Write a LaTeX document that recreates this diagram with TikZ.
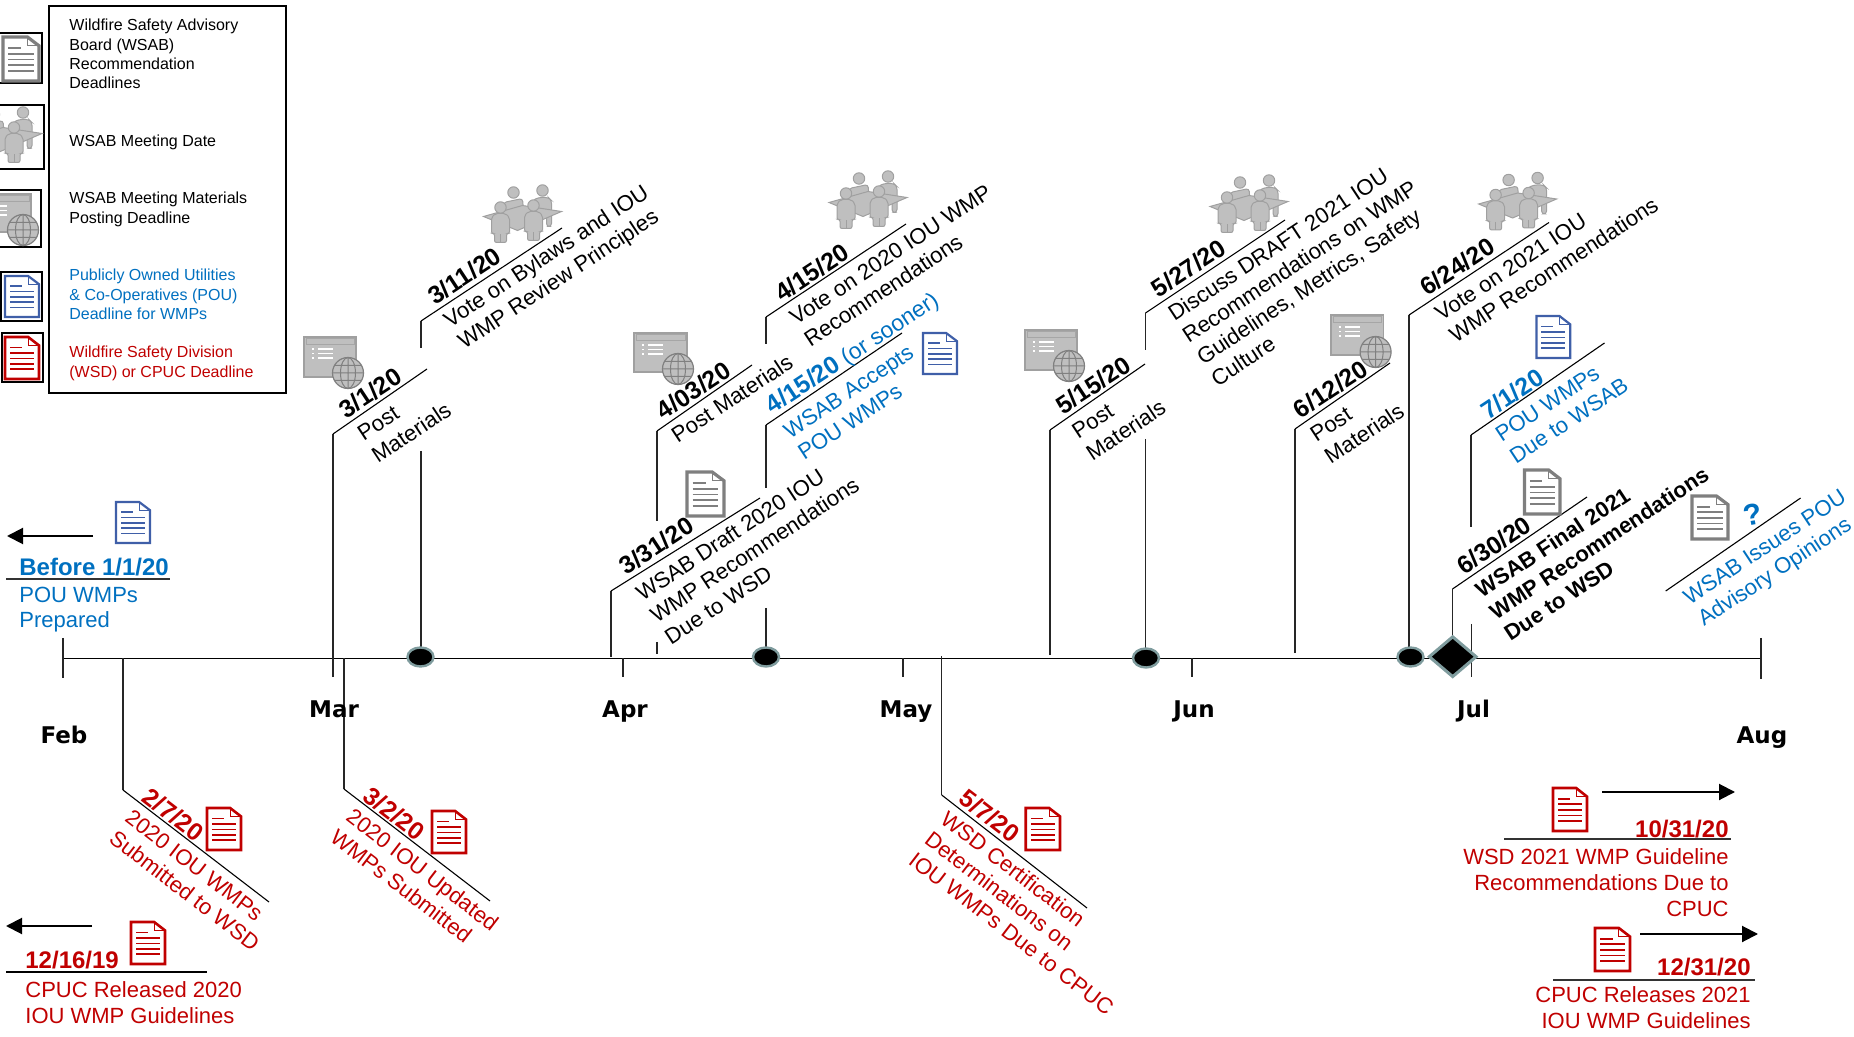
\documentclass[tikz,border=0pt]{standalone}
\usepackage{fontspec}
\setmainfont{Liberation Sans}
\newfontfamily\monthfont{DejaVu Sans}
\usetikzlibrary{arrows.meta,shapes.geometric}
\definecolor{wred}{HTML}{C00000}
\definecolor{wblue}{HTML}{0070C0}
\definecolor{docblue}{HTML}{3F5FA8}
\definecolor{docgrey}{HTML}{7F7F7F}
\definecolor{iconfill}{HTML}{BFBFBF}
\definecolor{iconline}{HTML}{A0A0A0}
\definecolor{globeline}{HTML}{808080}
\definecolor{markrim}{HTML}{7F9C9E}
\tikzset{
  tl/.style={line width=0.55pt,black},
  stemline/.style={line width=0.65pt,black!85},
  axisline/.style={line width=0.5pt,black},
  bigarrow/.style={line width=1pt,black,-{Triangle[length=8pt,width=8pt]}},
  legbox/.style={line width=0.85pt,black,fill=white},
  body/.style={font=\fontsize{11}{13}\selectfont,align=left,inner sep=0pt},
  rbody/.style={font=\fontsize{11.05}{13}\selectfont,align=left,inner sep=0pt},
  bodyr/.style={font=\fontsize{11}{13}\selectfont,align=right,inner sep=0pt},
  datefont/.style={font=\fontsize{12}{13}\selectfont\bfseries,inner sep=0pt},
  rdate/.style={font=\fontsize{12.4}{13}\selectfont\bfseries,inner sep=0pt},
  legtext/.style={font=\fontsize{8}{9.6}\selectfont,align=left,inner sep=0pt,anchor=base west},
  monthlab/.style={font=\monthfont\fontsize{11.5}{13}\selectfont\bfseries,inner sep=0pt,anchor=base},
  meetmark/.style={ellipse,draw=markrim,line width=1.2pt,fill=black,minimum width=13pt,minimum height=9.5pt,inner sep=0pt},
}
% rotated label; a along the leader, b below it, in reference pixels (base of the LAST line)
\newcommand{\rlab}[8]{\begin{scope}[shift={(#2,#3)},rotate=#4,transform shape]
  \node[#7,anchor=base west] (#1) at (#5,#6) {#8};\end{scope}}
\newcommand{\leader}[6]{\coordinate (#1a) at (#2,#3); \coordinate (#1b) at (#2,#4); \coordinate (#1c) at (#5,#6);
  \draw[stemline] (#1a) -- (#1b); \draw[tl] (#1b) -- (#1c);}
\newcommand{\stemseg}[4]{\coordinate (#1a) at (#2,#3); \coordinate (#1b) at (#2,#4); \draw[stemline] (#1a) -- (#1b);}
\newcommand{\docicon}[7]{% x1 y1 x2 y2 border lines lw
  \pgfmathsetlengthmacro{\dw}{(#3-#1)*0.5pt}\pgfmathsetlengthmacro{\dh}{(#4-#2)*0.5pt}
  \begin{scope}[shift={(#1,#2)},x=\dw,y=-\dh]
    \draw[#5,line width=#7,fill=white,line join=miter] (0,0) -- (.68,0) -- (1,.2) -- (1,1) -- (0,1) -- cycle;
    \draw[#5,line width=.5pt] (.68,0) -- (.68,.2) -- (1,.2);
    \draw[#6,line width=.85pt] (.15,.25) -- (.5,.25) (.15,.38) -- (.85,.38) (.15,.51) -- (.85,.51) (.15,.64) -- (.85,.64) (.15,.77) -- (.85,.77);
  \end{scope}}
\newcommand{\winicon}[6]{% x1 y1 x2 y2 gx gy
  \draw[iconline,line width=.6pt,fill=iconfill] (#1,#2) rectangle (#3,#4);
  \draw[globeline!70,line width=.5pt,fill=iconfill] (#1+2,#2+2) rectangle (#3-2,#2+8);
  \foreach \yy in {12,16.5,21}{
    \draw[white,line width=.7pt] (#1+8,#2+\yy) -- (#1+10,#2+\yy);
    \draw[white,line width=.7pt] (#1+14,#2+\yy) -- (#1+29,#2+\yy);}
  \begin{scope}[shift={(#5,#6)}]
    \draw[globeline,line width=.6pt,fill=iconfill] (0,0) circle[x radius=15.5,y radius=15.5];
    \draw[globeline,line width=.5pt] (0,0) circle[x radius=7.5,y radius=15.5] (0,-15.5) -- (0,15.5) (-15.5,0) -- (15.5,0) (-13.5,-7.5) -- (13.5,-7.5) (-13.5,7.5) -- (13.5,7.5);
  \end{scope}}
\newcommand{\frontperson}[2]{\begin{scope}[shift={(#1,#2)}]
  \draw[iconline,line width=.5pt,fill=iconfill] (0,0) circle[radius=5.7];
  \draw[iconline,line width=.5pt,fill=iconfill,rounded corners=1pt] (-9,26) -- (-9,10) -- (-5,6) -- (5,6) -- (9,10) -- (9,26) -- (6,26) -- (6,35) -- (-6,35) -- (-6,26) -- cycle;
  \draw[iconline,line width=.5pt] (0,27) -- (0,35);
\end{scope}}
\newcommand{\people}[2]{\begin{scope}[shift={(#1,#2)}]
  \draw[iconline,line width=.5pt,fill=iconfill] (-9,-22) circle[radius=5.7];
  \draw[iconline,line width=.5pt,fill=iconfill,rounded corners=1.5pt] (-19,0) -- (-19,-12) -- (0,-16) -- (1,-4) -- cycle;
  \draw[iconline,line width=.5pt,fill=iconfill] (20,-24) circle[radius=5.7];
  \draw[iconline,line width=.5pt,fill=iconfill,rounded corners=1.5pt] (10,0) -- (10,-14) -- (16,-17) -- (26,-17) -- (29,-14) -- (29,12) -- (24,12) -- (24,0) -- cycle;
  \draw[iconline,line width=.5pt,fill=iconfill] (-39,2) -- (0,-9) -- (39,-3) -- (-5,16) -- cycle;
  \frontperson{-22}{-7}\frontperson{11}{-9}
\end{scope}}
\begin{document}
\begin{tikzpicture}[x=0.5pt,y=-0.5pt]
\useasboundingbox (0,0) rectangle (1854,1037);
\clip (0,0) rectangle (1854,1037);

% legend
\coordinate (lfa) at (49,6); \coordinate (lfb) at (286,393);
\draw[legbox] (lfa) rectangle (lfb);
\draw[legbox] (-5,33) rectangle (42,83);
\draw[legbox] (-5,105) rectangle (44,169);
\draw[legbox] (-5,190) rectangle (41,247);
\draw[legbox] (1,272) rectangle (42,321);
\draw[legbox] (2,333) rectangle (43,382);
\docicon{3}{37}{39}{81}{docgrey}{docgrey}{1.6pt}
\people{3}{136.5}
\winicon{-22}{194}{31}{232}{23}{230}
\docicon{5}{276}{39}{317}{docblue}{docblue}{1.1pt}
\docicon{5}{337}{39}{379}{wred}{wred}{1.3pt}
\node[legtext] (lg1) at (69,31+57.6) {Wildfire Safety Advisory\\Board (WSAB)\\Recommendation\\Deadlines};
\node[legtext] (lg2) at (69,147) {WSAB Meeting Date};
\node[legtext] (lg3) at (69,204+19.2) {WSAB Meeting Materials\\Posting Deadline};
\node[legtext,text=wblue] (lg4) at (69,281+38.4) {Publicly Owned Utilities\\\& Co-Operatives (POU)\\Deadline for WMPs};
\node[legtext,text=wred] (lg5) at (69,358+19.2) {Wildfire Safety Division\\(WSD) or CPUC Deadline};

% axis and ticks
\coordinate (axL) at (63,658); \coordinate (axR) at (1761,658);
\draw[axisline] (axL) -- (axR);
\stemseg{tkFeb}{63}{638}{678}
\stemseg{tkApr}{623}{658}{677}
\stemseg{tkMay}{903}{658}{677}
\stemseg{tkJun}{1192}{658}{677}
\stemseg{tkJul}{1471.7}{624}{677}
\stemseg{tkEnd}{1761}{638}{679}

% leaders
\leader{dMarA}{333}{677}{434}{427}{369}
\leader{dMarB}{421}{348}{321}{562}{228}
\stemseg{dMarC}{421}{451}{650}
\leader{dAprA}{611}{657}{591}{760}{498}
\leader{dAprB}{657}{521}{431}{752}{365}
\stemseg{dAprC}{657}{642}{654}
\leader{dAprD}{766}{344}{317}{906}{224}
\leader{dAprE}{766}{488}{425}{902}{333}
\stemseg{dAprF}{766}{608}{650}
\leader{dMayA}{1050}{655}{430}{1145}{364}
\leader{dMayB}{1145.5}{350}{313}{1285}{220}
\stemseg{dMayC}{1145.5}{439}{650}
\leader{dJunA}{1295}{653}{429}{1390}{363}
\leader{dJunB}{1409}{649}{315}{1549}{222.5}
\leader{dJulA}{1471}{527}{435}{1604.5}{343}
\leader{dJulB}{1452.5}{640}{589}{1587}{497}
\coordinate (advA) at (1665.7,591); \coordinate (advB) at (1800.6,498);
\draw[tl] (advA) -- (advB);
\leader{dFeb}{123}{658}{790}{269}{902}
\leader{dMarR}{344}{658}{789}{490}{901}
\leader{dMayR}{941.7}{656}{795}{1087}{908}

% meeting markers
\node[meetmark] (m1) at (420.5,657) {};
\node[meetmark] (m2) at (766,657) {};
\node[meetmark] (m3) at (1146,658) {};
\node[meetmark] (m4) at (1410.5,657) {};
\node[diamond,draw=markrim,line width=1.5pt,fill=black,minimum width=24pt,minimum height=20.5pt,inner sep=0pt] (finalmark) at (1452.7,656.7) {};

% months
\node[monthlab] (mFeb) at (64,743.5) {Feb};
\node[monthlab] (mMar) at (334,717) {Mar};
\node[monthlab] (mApr) at (625,717) {Apr};
\node[monthlab] (mMay) at (906,717) {May};
\node[monthlab] (mJun) at (1194,717) {Jun};
\node[monthlab] (mJul) at (1473.5,717) {Jul};
\node[monthlab] (mAug) at (1762,743.5) {Aug};

% upward labels
\rlab{t1d}{333}{434}{33.4}{19}{-5}{rdate}{3/1/20}
\rlab{t1b}{333}{434}{33.4}{21}{23.5+26}{rbody}{Post\\Materials}
\rlab{t2d}{421}{321}{33.4}{20}{-5}{rdate}{3/11/20}
\rlab{t2b}{421}{321}{33.4}{20}{22+26}{rbody}{Vote on Bylaws and IOU\\WMP Review Principles}
\rlab{t3d}{611}{591}{33.4}{21}{-4}{rdate}{3/31/20}
\rlab{t3b}{611}{591}{33.4}{20}{26.5+52}{rbody}{WSAB Draft 2020 IOU\\WMP Recommendations\\Due to WSD}
\rlab{t4d}{657}{431}{33.4}{11}{-5}{rdate}{4/03/20}
\rlab{t4b}{657}{431}{33.4}{10}{22}{rbody}{Post Materials}
\rlab{t5d}{766}{317}{33.4}{21}{-3}{rdate}{4/15/20}
\rlab{t5b}{766}{317}{33.4}{20}{24+26}{rbody}{Vote on 2020 IOU WMP\\Recommendations}
\rlab{t6d}{766}{425}{33.4}{11}{-5}{text=wblue,rbody,font=\fontsize{11.4}{13}\selectfont}{{\fontsize{12.4}{13}\selectfont\bfseries 4/15/20} (or sooner)}
\rlab{t6b}{766}{425}{33.4}{12}{25+26}{text=wblue,rbody}{WSAB Accepts\\POU WMPs}
\rlab{t7d}{1050}{430}{33.4}{19}{-5}{rdate}{5/15/20}
\rlab{t7b}{1050}{430}{33.4}{18}{23.5+26}{rbody}{Post\\Materials}
\rlab{t8d}{1145.5}{313}{33.4}{19}{-5}{rdate}{5/27/20}
\rlab{t8b}{1145.5}{313}{33.4}{19}{23.5+78}{rbody}{Discuss DRAFT 2021 IOU\\Recommendations on WMP\\Guidelines, Metrics, Safety\\Culture}
\rlab{t9d}{1295}{429}{33.4}{10}{-5}{rdate}{6/12/20}
\rlab{t9b}{1295}{429}{33.4}{10}{23.5+26}{rbody}{Post\\Materials}
\rlab{t10d}{1409}{315}{33.4}{25}{-5}{rdate}{6/24/20}
\rlab{t10b}{1409}{315}{33.4}{23}{23.5+26}{rbody}{Vote on 2021 IOU\\WMP Recommendations}
\rlab{t11d}{1471}{435}{33.4}{22}{-3}{rdate,text=wblue}{7/1/20}
\rlab{t11b}{1471}{435}{33.4}{21}{23.5+26}{rbody,text=wblue}{POU WMPs\\Due to WSAB}
\rlab{t12d}{1452.5}{589}{33.4}{17}{-5}{rdate}{6/30/20}
\rlab{t12b}{1452.5}{589}{33.4}{19}{24+52}{body,font=\fontsize{11}{13}\selectfont\bfseries}{WSAB Final 2021\\WMP Recommendations\\Due to WSD}
\rlab{t13b}{1665.7}{591}{33.4}{12}{25+26}{rbody,text=wblue}{WSAB Issues POU\\Advisory Opinions}
\node[text=wblue,font=\fontsize{15}{15}\selectfont\bfseries,inner sep=0pt,rotate=10] (qmark) at (1752.5,515) {?};

% downward labels
\rlab{r1d}{123}{790}{-37.5}{20}{-2.5}{rdate,text=wred}{2/7/20}
\rlab{r1b}{123}{790}{-37.5}{19}{24+26}{rbody,text=wred}{2020 IOU WMPs\\Submitted to WSD}
\rlab{r2d}{344}{789}{-37.5}{20}{-2.5}{rdate,text=wred}{3/2/20}
\rlab{r2b}{344}{789}{-37.5}{19}{24+26}{rbody,text=wred}{2020 IOU Updated\\WMPs Submitted}
\rlab{r3d}{941.7}{795}{-37.5}{16}{-4}{rdate,text=wred}{5/7/20}
\rlab{r3b}{941.7}{795}{-37.5}{14}{23+52}{rbody,text=wred}{WSD Certification\\Determinations on\\IOU WMPs Due to CPUC}

% icons on the timeline
\people{522.5}{214.5}
\people{868}{200.5}
\people{1249}{204.5}
\people{1517.6}{202}
\winicon{304}{337}{356}{377}{348}{373}
\winicon{634}{333}{687}{372}{678}{369}
\winicon{1025}{330}{1077}{370}{1069}{366}
\winicon{1331}{315}{1383.7}{355}{1375.6}{352}
\docicon{687}{472}{724}{516}{docgrey}{docgrey}{1.6pt}
\docicon{1524.4}{470}{1560}{514}{docgrey}{docgrey}{1.6pt}
\docicon{1692}{496}{1728}{539}{docgrey}{docgrey}{1.6pt}
\docicon{116}{502}{150}{543}{docblue}{docblue}{1.1pt}
\docicon{923}{333}{957}{374}{docblue}{docblue}{1.1pt}
\docicon{1536.4}{316}{1570.3}{358}{docblue}{docblue}{1.1pt}
\docicon{207}{808}{241}{850}{wred}{wred}{1.3pt}
\docicon{432}{811}{466}{853}{wred}{wred}{1.3pt}
\docicon{1025.7}{808}{1060}{850}{wred}{wred}{1.3pt}
\docicon{131}{922}{165}{964}{wred}{wred}{1.3pt}
\docicon{1553}{788}{1587}{831}{wred}{wred}{1.3pt}
\docicon{1595}{928}{1630}{971}{wred}{wred}{1.3pt}

% horizontal notes
\coordinate (ar1a) at (93,536); \coordinate (ar1b) at (7,536); \draw[bigarrow] (ar1a) -- (ar1b);
\coordinate (ar2a) at (92,926); \coordinate (ar2b) at (6,926); \draw[bigarrow] (ar2a) -- (ar2b);
\coordinate (ar3a) at (1602,792); \coordinate (ar3b) at (1735,792); \draw[bigarrow] (ar3a) -- (ar3b);
\coordinate (ar4a) at (1640,934); \coordinate (ar4b) at (1758,934); \draw[bigarrow] (ar4a) -- (ar4b);

\coordinate (u1a) at (6,579); \coordinate (u1b) at (170,579); \draw[line width=.7pt,black!80] (u1a) -- (u1b);
\node[datefont,text=wblue,anchor=base west] (h1d) at (19,575) {Before 1/1/20};
\node[body,text=wblue,anchor=base west] (h1b) at (19,602+26) {POU WMPs\\Prepared};
\coordinate (u2a) at (6,972); \coordinate (u2b) at (207,972); \draw[tl] (u2a) -- (u2b);
\node[datefont,text=wred,anchor=base west] (h2d) at (25,968) {12/16/19};
\node[body,text=wred,anchor=base west] (h2b) at (25,997+26) {CPUC Released 2020\\IOU WMP Guidelines};
\coordinate (u3a) at (1504,839); \coordinate (u3b) at (1731,839); \draw[line width=.7pt,black!80] (u3a) -- (u3b);
\node[datefont,text=wred,anchor=base east] (h3d) at (1729,837) {10/31/20};
\node[bodyr,text=wred,anchor=base east] (h3b) at (1729,864+52) {WSD 2021 WMP Guideline\\Recommendations Due to\\CPUC};
\coordinate (u4a) at (1553,980); \coordinate (u4b) at (1755,980); \draw[line width=.7pt,black!80] (u4a) -- (u4b);
\node[datefont,text=wred,anchor=base east] (h4d) at (1751,975) {12/31/20};
\node[bodyr,text=wred,anchor=base east] (h4b) at (1751,1002+26) {CPUC Releases 2021\\IOU WMP Guidelines};
\end{tikzpicture}
\end{document}
